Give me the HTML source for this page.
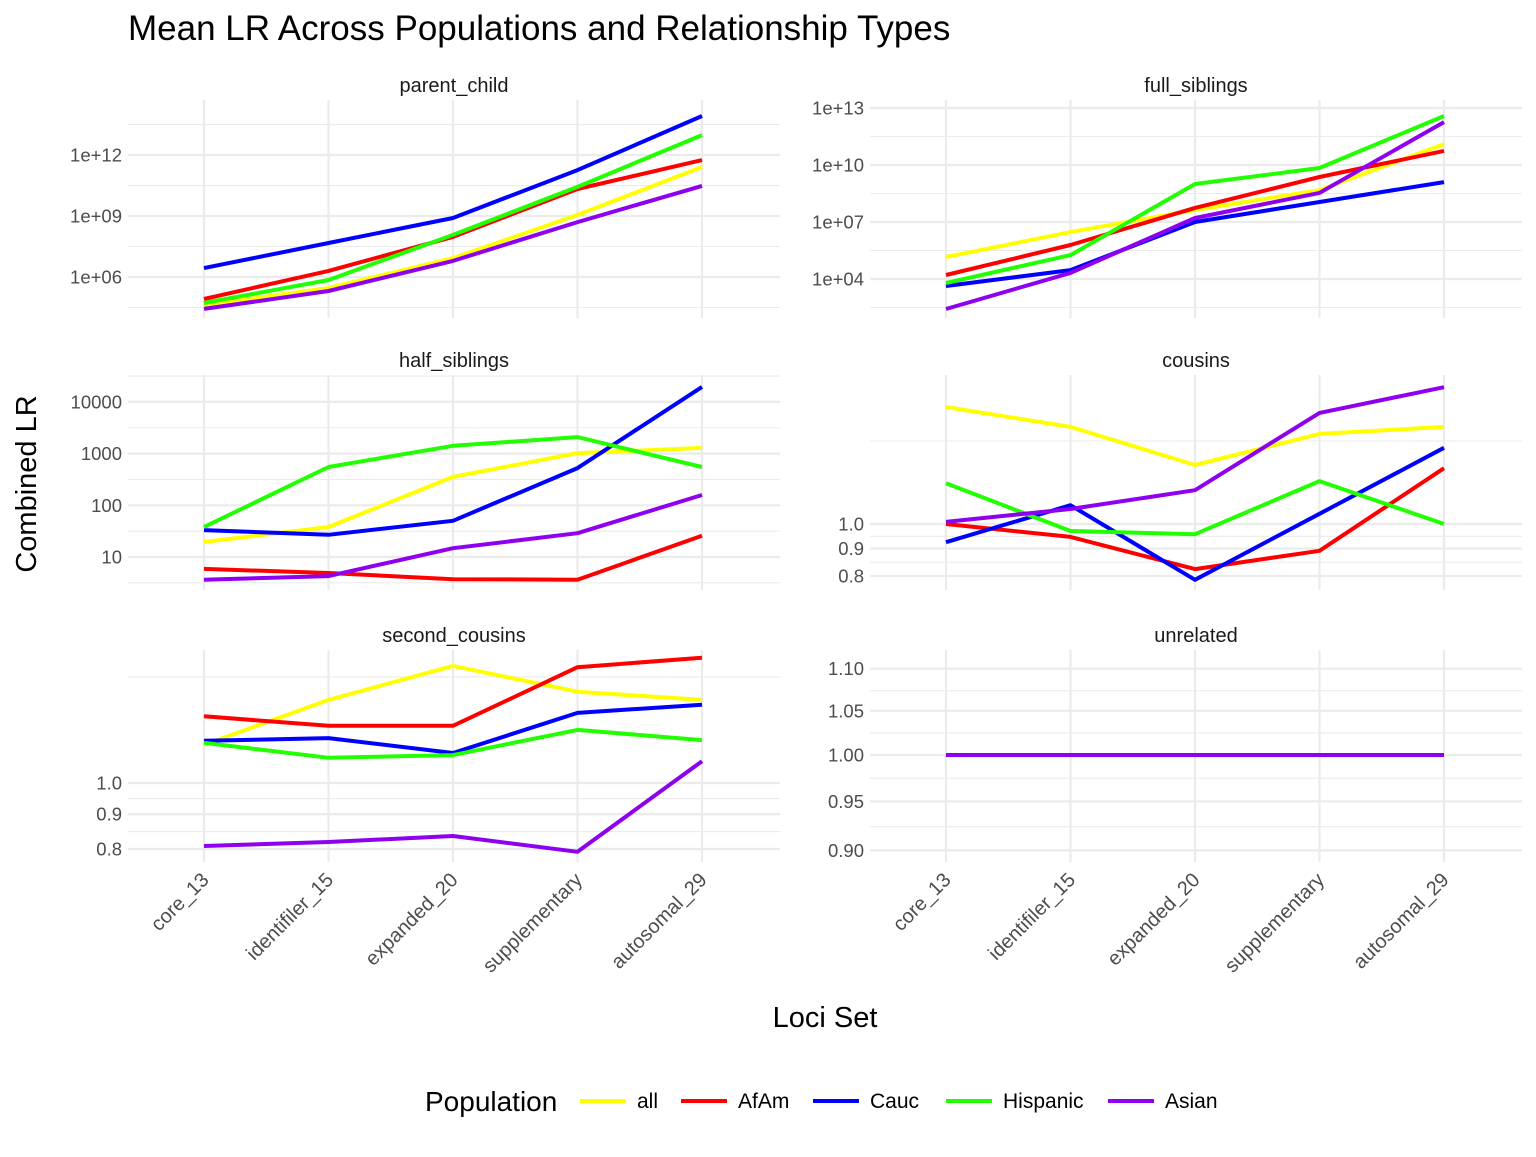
<!DOCTYPE html>
<html><head><meta charset="utf-8"><style>
body{margin:0;background:#fff;font-family:"Liberation Sans",Arial,sans-serif}
svg text{font-family:"Liberation Sans",Arial,sans-serif}
</style></head><body>
<svg id="chart" width="1536" height="1152" xmlns="http://www.w3.org/2000/svg">
<rect width="1536" height="1152" fill="#fff"/>
<text x="128" y="40" font-size="35" fill="#000">Mean LR Across Populations and Relationship Types</text>
<text transform="translate(36,484) rotate(-90)" text-anchor="middle" font-size="29" fill="#000">Combined LR</text>
<text x="825" y="1027" text-anchor="middle" font-size="29" fill="#000">Loci Set</text>
<g id="panels"></g>
<g id="legend"></g>
</svg>
<script>
const categories=["core_13","identifiler_15","expanded_20","supplementary","autosomal_29"];
const populations=["all","AfAm","Cauc","Hispanic","Asian"];
const popColors=["#FFFF00","#FF0000","#0000FF","#22FF00","#8F00EE"];
const panelNames=["parent_child","full_siblings","half_siblings","cousins","second_cousins","unrelated"];
// log10 values of mean LR, order: all, AfAm, Cauc, Hispanic, Asian
const parentChild=[[4.62,5.46,6.93,9.05,11.41],[4.92,6.3,7.97,10.33,11.75],[6.44,7.67,8.9,11.26,13.92],[4.72,5.85,8.07,10.43,12.98],[4.43,5.31,6.79,8.7,10.48]];
const fullSiblings=[[5.16,6.47,7.63,8.68,11.1],[4.21,5.79,7.74,9.37,10.74],[3.63,4.47,7.0,8.05,9.1],[3.79,5.26,9.0,9.84,12.58],[2.42,4.32,7.21,8.53,12.26]];
const halfSiblings=[[1.29,1.58,2.55,3.01,3.11],[0.77,0.69,0.57,0.56,1.41],[1.52,1.43,1.70,2.72,4.29],[1.58,2.74,3.15,3.32,2.74],[0.56,0.63,1.17,1.46,2.2]];
const cousins=[[0.218,0.181,0.11,0.168,0.181],[0,-0.024,-0.084,-0.05,0.104],[-0.034,0.035,-0.104,0.019,0.142],[0.076,-0.013,-0.019,0.08,0],[0.004,0.028,0.063,0.207,0.255]];
const secondCousins=[[0.056,0.122,0.172,0.134,0.122],[0.098,0.084,0.084,0.170,0.184],[0.062,0.066,0.044,0.103,0.115],[0.059,0.037,0.041,0.078,0.063],[-0.0925,-0.0866,-0.0778,-0.101,0.032]];
const unrelated=[[0,0,0,0,0],[0,0,0,0,0],[0,0,0,0,0],[0,0,0,0,0],[0,0,0,0,0]];
const pcTicks=["1e+06","1e+09","1e+12"];
const fsTicks=["1e+04","1e+07","1e+10","1e+13"];
const hsTicks=["10","100","1000","10000"];
const coTicks=["0.8","0.9","1.0"];
const scTicks=["0.8","0.9","1.0"];
const unTicks=["0.90","0.95","1.00","1.05","1.10"];
const allData=[parentChild,fullSiblings,halfSiblings,cousins,secondCousins,unrelated];
const allTicks=[pcTicks,fsTicks,hsTicks,coTicks,scTicks,unTicks];
const layout=[[128,780,100,318,6,277,20.33],[870,1522,100,318,4,279,19],[128,780,375,590,1,557,51.7],[870,1522,375,590,0,524,536.6],[128,780,650,862,0,783,681],[870,1522,650,862,0,755,2085]];
const minors=[[4.5,7.5,10.5,13.5],[2.5,5.5,8.5,11.5],[0.5,1.5,2.5,3.5,4.5],[-0.0713,-0.0229,0.1547],[-0.0713,-0.0229,0.1557],[-0.0344,-0.0111,0.0106,0.0308]];
const NS="http://www.w3.org/2000/svg";
const root=document.getElementById('panels');
function mk(t,a,p){const e=document.createElementNS(NS,t);for(const k in a)e.setAttribute(k,a[k]);p.appendChild(e);return e;}
panelNames.forEach((name,pi)=>{
  const [x0,x1,y0,y1,lr,yr,k]=layout[pi];
  const g=mk('g',{},root);
  
  
  const xs=i=>x0+76+i*124.5;
  const ys=l=>yr-(l-lr)*k;
  minors[pi].forEach(l=>{const y=ys(l);if(y>y0-2&&y<y1)mk('line',{x1:x0,x2:x1,y1:y,y2:y,stroke:'#ebebeb','stroke-width':1.1},g);});
  allTicks[pi].forEach(t=>{
    const l=Math.log10(parseFloat(t));const y=ys(l);
    mk('line',{x1:x0,x2:x1,y1:y,y2:y,stroke:'#ebebeb','stroke-width':2.2},g);
    const tx=mk('text',{x:x0-6,y:y+6.5,'text-anchor':'end','font-size':18.5,fill:'#4d4d4d'},g);tx.textContent=t;
    
    
  });
  categories.forEach((c,i)=>{mk('line',{x1:xs(i),x2:xs(i),y1:y0,y2:y1,stroke:'#ebebeb','stroke-width':2.2},g);});
  const st=mk('text',{x:(x0+x1)/2,y:y0-8,'text-anchor':'middle','font-size':20,fill:'#1a1a1a'},g);st.textContent=name;
  
  
  allData[pi].forEach((series,si)=>{
    const pts=series.map((v,i)=>xs(i).toFixed(1)+','+ys(v).toFixed(1)).join(' ');
    const pl=mk('polyline',{points:pts,fill:'none',stroke:popColors[si],'stroke-width':4,'stroke-linejoin':'round'},g);
    
    
  });
  if(pi>=4){
    categories.forEach((c,i)=>{
      const tx=mk('text',{transform:`translate(${xs(i)+6},${y1+19}) rotate(-45)`,'text-anchor':'end','font-size':20,fill:'#4d4d4d'},g);tx.textContent=c;
      
      
    });
  }
});
const lg=document.getElementById('legend');
const lt=mk('text',{x:425,y:1111,'font-size':28,fill:'#000'},lg);lt.textContent='Population';
const lx=[580,681,813,946,1108];
populations.forEach((p,i)=>{
  const e=mk('g',{},lg);
  
  
  mk('line',{x1:lx[i],x2:lx[i]+46,y1:1101,y2:1101,stroke:popColors[i],'stroke-width':4},e);
  const t=mk('text',{x:lx[i]+57,y:1108,'font-size':21,fill:'#000'},e);t.textContent=p;
});
</script>
</body></html>
